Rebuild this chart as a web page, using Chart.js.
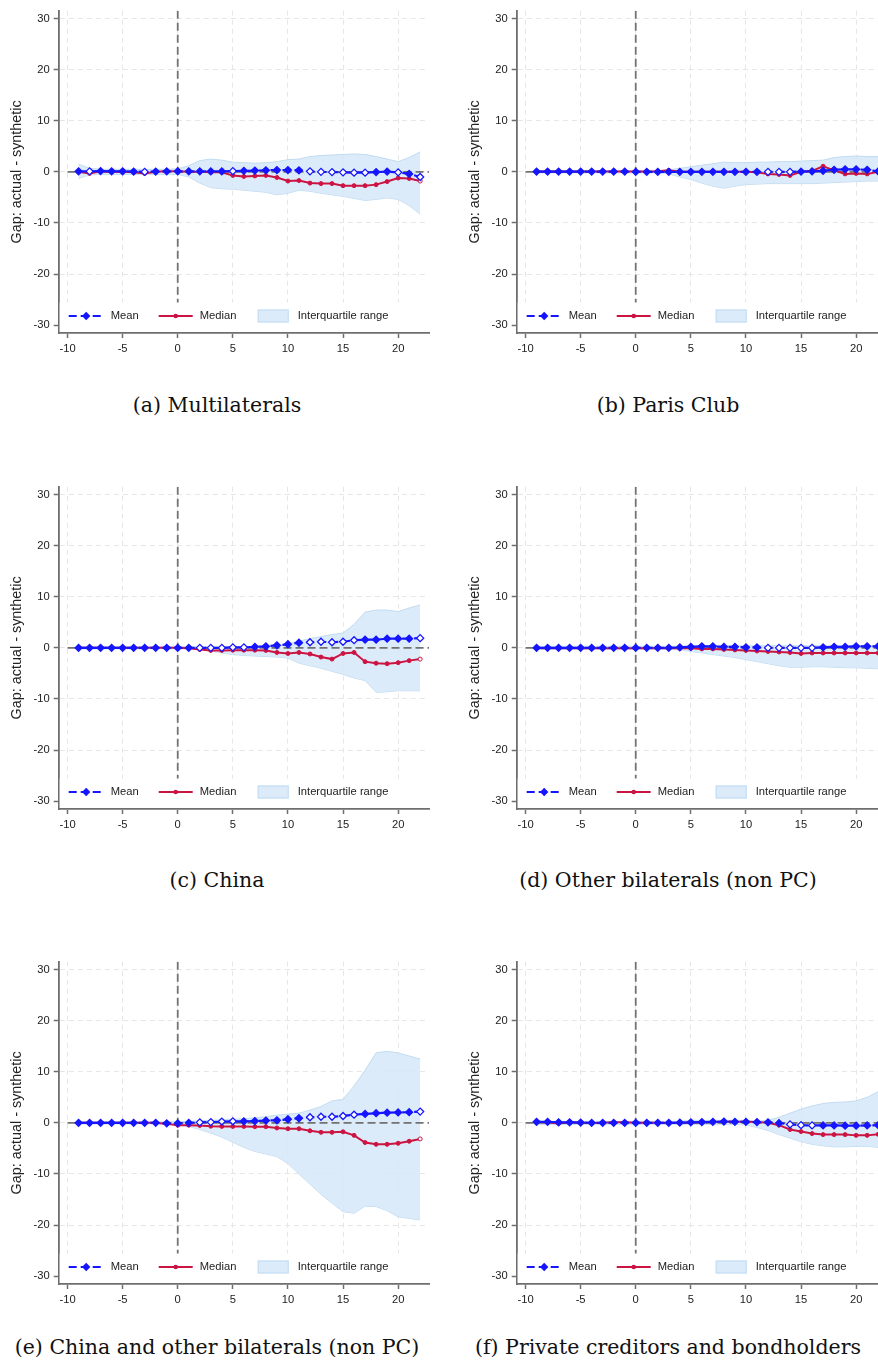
<!DOCTYPE html>
<html lang="en">
<head>
<meta charset="UTF-8">
<title>Gap: actual - synthetic</title>
<script src="https://cdn.jsdelivr.net/npm/chart.js"></script>
<style>
  html, body { margin: 0; padding: 0; background: #fff; }
  body { width: 878px; height: 1370px; overflow: hidden; position: relative; }
  canvas { position: absolute; }
  .caption {
    position: absolute;
    width: 434px;
    text-align: center;
    font-family: 'DejaVu Serif', 'Liberation Serif', serif;
    font-size: 20.5px;
    line-height: 24px;
    color: #111;
    white-space: nowrap;
  }
</style>
</head>
<body>

<canvas id="chartA" width="440" height="360" style="left:0;top:0"></canvas>
<canvas id="chartB" width="440" height="360" style="left:458px;top:0"></canvas>
<canvas id="chartC" width="440" height="360" style="left:0;top:476px"></canvas>
<canvas id="chartD" width="440" height="360" style="left:458px;top:476px"></canvas>
<canvas id="chartE" width="440" height="360" style="left:0;top:951px"></canvas>
<canvas id="chartF" width="440" height="360" style="left:458px;top:951px"></canvas>

<div class="caption" style="left:0;top:393px">(a) Multilaterals</div>
<div class="caption" style="left:451px;top:393px">(b) Paris Club</div>
<div class="caption" style="left:0;top:868px">(c) China</div>
<div class="caption" style="left:451px;top:868px">(d) Other bilaterals (non PC)</div>
<div class="caption" style="left:0;top:1335px">(e) China and other bilaterals (non PC)</div>
<div class="caption" style="left:451px;top:1335px">(f) Private creditors and bondholders</div>

<script>
// periods relative to the event
const periods = [-9, -8, -7, -6, -5, -4, -3, -2, -1, 0, 1, 2, 3, 4, 5, 6, 7, 8, 9, 10, 11, 12, 13, 14, 15, 16, 17, 18, 19, 20, 21, 22];
const xTicks = [-10, -5, 0, 5, 10, 15, 20];
const yTicks = [-30, -20, -10, 0, 10, 20, 30];

// (a) Multilaterals
const meanA   = [0.1, 0.1, 0.15, 0.1, 0.1, 0.05, 0.0, 0.05, 0.1, 0.1, 0.1, 0.1, 0.1, 0.1, 0.15, 0.2, 0.25, 0.3, 0.35, 0.35, 0.3, 0.1, 0.0, -0.05, -0.1, -0.15, -0.15, -0.05, 0.05, -0.1, -0.4, -1.0];
const medianA = [0.0, -0.3, 0.1, 0.0, 0.0, -0.1, -0.3, 0.0, 0.1, 0.1, 0.0, 0.0, -0.1, -0.1, -0.7, -0.9, -0.8, -0.7, -1.1, -1.8, -1.7, -2.2, -2.3, -2.3, -2.7, -2.7, -2.7, -2.5, -1.9, -1.2, -1.3, -1.8];
const q75A    = [1.5, 0.7, 0.5, 0.5, 0.5, 0.5, 0.5, 0.5, 0.5, 0.6, 1.2, 2.2, 2.5, 2.3, 1.9, 1.8, 1.7, 1.8, 2.0, 2.4, 2.5, 3.0, 3.2, 3.3, 3.4, 3.5, 3.4, 3.0, 2.5, 2.0, 2.8, 3.9];
const q25A    = [-1.3, -0.6, -0.5, -0.5, -0.5, -0.5, -0.5, -0.5, -0.5, -0.5, -1.0, -2.2, -3.1, -3.3, -3.4, -3.6, -3.8, -4.0, -4.5, -4.2, -3.6, -3.8, -4.2, -4.5, -4.8, -5.2, -5.6, -5.4, -5.1, -5.4, -6.6, -8.3];
const hollowMeanA = [-8, -3, 5, 12, 13, 14, 15, 16, 17, 20, 22];
const hollowMedianA = [-8, 22];

// (b) Paris Club
const meanB   = [0.05, 0.05, 0.05, 0.05, 0.05, 0.05, 0.05, 0.05, 0.05, 0.0, 0.0, 0.0, 0.0, 0.0, 0.0, 0.0, 0.0, 0.0, 0.0, 0.0, 0.0, 0.0, 0.0, 0.0, 0.05, 0.1, 0.2, 0.4, 0.5, 0.5, 0.4, 0.1];
const medianB = [0.05, 0.05, 0.05, 0.05, 0.05, 0.05, 0.05, 0.05, 0.05, 0.05, 0.05, 0.1, 0.3, 0.0, 0.0, 0.0, 0.0, 0.0, 0.0, 0.0, -0.1, -0.4, -0.5, -0.7, 0.0, 0.2, 1.1, 0.3, -0.4, -0.3, -0.4, 0.0];
const q75B    = [0.2, 0.2, 0.2, 0.2, 0.2, 0.2, 0.2, 0.2, 0.2, 0.2, 0.2, 0.2, 0.4, 0.7, 1.0, 1.3, 1.6, 1.9, 1.8, 1.8, 1.9, 1.9, 2.0, 2.0, 2.1, 2.2, 2.3, 2.8, 3.0, 3.1, 3.0, 3.0];
const q25B    = [-0.2, -0.2, -0.2, -0.2, -0.2, -0.2, -0.2, -0.2, -0.2, -0.2, -0.2, -0.2, -0.4, -1.0, -1.5, -2.2, -2.8, -3.2, -2.8, -2.5, -2.4, -2.3, -2.3, -2.3, -2.3, -2.3, -2.2, -2.1, -2.0, -1.9, -1.8, -1.8];
const hollowMeanB = [12, 13, 14];
const hollowMedianB = [];

// (c) China
const meanC   = [0.0, 0.0, 0.0, 0.0, 0.0, 0.0, 0.0, 0.0, 0.0, 0.0, 0.0, 0.0, 0.0, 0.0, 0.1, 0.1, 0.2, 0.3, 0.5, 0.7, 1.0, 1.1, 1.2, 1.1, 1.2, 1.5, 1.6, 1.6, 1.8, 1.8, 1.8, 1.9];
const medianC = [0.0, 0.0, 0.0, 0.0, 0.0, 0.0, 0.0, 0.0, 0.0, 0.0, -0.1, -0.3, -0.5, -0.5, -0.45, -0.45, -0.45, -0.5, -0.9, -1.1, -0.9, -1.2, -1.8, -2.2, -1.1, -0.9, -2.7, -3.0, -3.1, -2.9, -2.5, -2.2];
const q75C    = [0.2, 0.2, 0.2, 0.2, 0.2, 0.2, 0.2, 0.2, 0.2, 0.2, 0.2, 0.2, 0.2, 0.2, 0.2, 0.2, 0.2, 0.2, 0.4, 0.8, 1.3, 1.8, 2.2, 2.6, 2.9, 4.6, 7.0, 7.4, 7.4, 7.1, 7.8, 8.4];
const q25C    = [-0.2, -0.2, -0.2, -0.2, -0.2, -0.2, -0.2, -0.2, -0.2, -0.2, -0.2, -0.2, -0.6, -1.0, -1.3, -1.5, -1.6, -1.7, -1.8, -2.0, -3.0, -3.5, -4.0, -4.6, -5.2, -5.9, -6.4, -8.7, -8.6, -8.4, -8.4, -8.4];
const hollowMeanC = [2, 3, 4, 5, 6, 12, 13, 14, 15, 16, 22];
const hollowMedianC = [22];

// (d) Other bilaterals (non PC)
const meanD   = [0.0, 0.0, 0.0, 0.0, 0.0, 0.0, 0.0, 0.0, 0.0, 0.0, 0.0, 0.0, 0.0, 0.1, 0.2, 0.3, 0.3, 0.2, 0.2, 0.1, 0.1, 0.0, 0.0, 0.0, 0.0, 0.0, 0.1, 0.2, 0.2, 0.3, 0.3, 0.3];
const medianD = [-0.1, -0.1, -0.1, -0.1, -0.1, -0.1, -0.1, -0.1, -0.1, -0.1, -0.1, -0.1, -0.1, -0.1, -0.1, -0.2, -0.2, -0.3, -0.4, -0.5, -0.6, -0.7, -0.8, -0.9, -1.1, -1.0, -1.0, -1.0, -1.0, -1.0, -1.0, -1.0];
const q75D    = [0.3, 0.3, 0.3, 0.3, 0.3, 0.3, 0.3, 0.3, 0.3, 0.3, 0.3, 0.3, 0.3, 0.3, 0.4, 0.4, 0.4, 0.4, 0.4, 0.4, 0.4, 0.4, 0.4, 0.4, 0.4, 0.4, 0.4, 0.4, 0.4, 0.4, 0.4, 0.4];
const q25D    = [-0.3, -0.3, -0.3, -0.3, -0.3, -0.3, -0.3, -0.3, -0.3, -0.3, -0.3, -0.3, -0.3, -0.4, -0.7, -1.0, -1.3, -1.6, -1.9, -2.3, -2.7, -3.1, -3.5, -3.8, -3.8, -3.7, -3.7, -3.8, -3.9, -3.9, -4.0, -4.1];
const hollowMeanD = [12, 13, 14, 15, 16];
const hollowMedianD = [];

// (e) China and other bilaterals (non PC)
const meanE   = [0.0, 0.0, 0.0, 0.0, 0.0, 0.0, 0.0, 0.0, -0.1, -0.1, 0.0, 0.1, 0.15, 0.25, 0.3, 0.3, 0.35, 0.45, 0.5, 0.7, 0.9, 1.1, 1.2, 1.2, 1.35, 1.6, 1.75, 1.9, 2.0, 2.05, 2.1, 2.2];
const medianE = [0.0, 0.0, 0.0, 0.0, 0.0, 0.0, 0.0, 0.0, -0.2, -0.45, -0.45, -0.5, -0.65, -0.7, -0.7, -0.7, -0.75, -0.75, -1.0, -1.15, -1.15, -1.55, -1.85, -1.85, -1.75, -2.45, -3.85, -4.2, -4.2, -4.0, -3.6, -3.15];
const q75E    = [0.2, 0.2, 0.2, 0.2, 0.2, 0.2, 0.2, 0.2, 0.2, 0.2, 0.3, 0.4, 0.5, 0.6, 0.7, 0.8, 1.0, 1.2, 1.5, 1.7, 1.9, 2.5, 3.2, 4.3, 4.6, 7.2, 10.3, 13.7, 14.0, 13.7, 13.1, 12.5];
const q25E    = [-0.2, -0.2, -0.2, -0.2, -0.2, -0.2, -0.2, -0.2, -0.2, -0.4, -0.7, -1.3, -2.0, -2.8, -3.8, -4.8, -5.6, -6.1, -6.6, -8.0, -10.0, -12.0, -14.0, -15.7, -17.4, -17.7, -16.3, -16.4, -17.2, -18.4, -18.7, -19.0];
const hollowMeanE = [2, 3, 4, 5, 12, 13, 14, 15, 16, 22];
const hollowMedianE = [22];

// (f) Private creditors and bondholders
const meanF   = [0.2, 0.2, 0.1, 0.1, 0.05, 0.0, 0.0, 0.0, 0.0, 0.0, 0.0, 0.0, 0.0, 0.05, 0.1, 0.15, 0.2, 0.25, 0.2, 0.2, 0.15, 0.1, -0.05, -0.3, -0.45, -0.5, -0.5, -0.5, -0.55, -0.55, -0.5, -0.45];
const medianF = [0.1, 0.1, -0.1, 0.1, 0.0, -0.05, 0.0, 0.1, 0.1, 0.0, 0.0, 0.0, -0.05, -0.05, 0.05, 0.1, 0.15, 0.2, 0.2, 0.2, 0.15, 0.0, -0.45, -1.3, -1.7, -2.1, -2.3, -2.3, -2.3, -2.45, -2.45, -2.25];
const q75F    = [0.3, 0.3, 0.3, 0.3, 0.3, 0.3, 0.3, 0.3, 0.3, 0.3, 0.3, 0.3, 0.3, 0.3, 0.5, 0.5, 0.5, 0.5, 0.5, 0.5, 0.3, 0.5, 1.1, 1.9, 2.7, 3.3, 3.8, 4.0, 4.1, 4.3, 5.0, 6.1];
const q25F    = [-0.3, -0.3, -0.3, -0.3, -0.3, -0.3, -0.3, -0.3, -0.3, -0.3, -0.3, -0.3, -0.3, -0.3, -0.3, -0.3, -0.3, -0.3, -0.3, -0.4, -0.9, -1.5, -2.3, -3.0, -3.7, -4.2, -4.5, -4.7, -4.7, -4.6, -4.6, -4.8];
const hollowMeanF = [14, 15, 16];
const hollowMedianF = [];

const xMin = -10.8, xMax = 22.8, yMin = -31.55, yMax = 31.55;
const refX = 0, refY = 0, refYStart = -10;

const BLUE = '#1515ff';
const RED = '#cc1443';
const IQR_FILL = 'rgba(214, 232, 248, 0.85)';
const IQR_EDGE = '#c0dbf1';
const REF = '#727272';
const AXIS = '#6e6e6e';
const GRID = '#e6e6e6';
const TEXT = '#222222';

Chart.defaults.font.family = '"Liberation Sans", Arial, sans-serif';
Chart.defaults.color = TEXT;

function toPoints(vals) {
  return vals.map((v, i) => ({ x: periods[i], y: v }));
}

function markerFill(hollow, color) {
  return periods.map(p => hollow.includes(p) ? '#ffffff' : color);
}

// legend drawn inside the plot region, at the bottom
const insideLegend = {
  id: 'insideLegend',
  afterDatasetsDraw(chart) {
    const ctx = chart.ctx;
    const a = chart.chartArea;
    const x0 = a.left;
    const rowY = a.bottom - 17;
    ctx.save();
    ctx.fillStyle = '#ffffff';
    ctx.fillRect(a.left + 1, a.bottom - 30.5, a.right - a.left - 1, 29.5);

    // Mean
    ctx.strokeStyle = BLUE;
    ctx.lineWidth = 2.2;
    ctx.setLineDash([8, 4]);
    ctx.beginPath();
    ctx.moveTo(x0 + 10, rowY);
    ctx.lineTo(x0 + 44, rowY);
    ctx.stroke();
    ctx.setLineDash([]);
    ctx.fillStyle = BLUE;
    ctx.beginPath();
    ctx.moveTo(x0 + 27.5, rowY - 4.2);
    ctx.lineTo(x0 + 31.7, rowY);
    ctx.lineTo(x0 + 27.5, rowY + 4.2);
    ctx.lineTo(x0 + 23.3, rowY);
    ctx.closePath();
    ctx.fill();

    // Median
    ctx.strokeStyle = RED;
    ctx.lineWidth = 2;
    ctx.beginPath();
    ctx.moveTo(x0 + 100, rowY);
    ctx.lineTo(x0 + 134, rowY);
    ctx.stroke();
    ctx.fillStyle = RED;
    ctx.beginPath();
    ctx.arc(x0 + 117, rowY, 2.3, 0, Math.PI * 2);
    ctx.fill();

    // Interquartile range
    ctx.fillStyle = IQR_FILL;
    ctx.fillRect(x0 + 199, rowY - 6.5, 31, 13);
    ctx.strokeStyle = IQR_EDGE;
    ctx.lineWidth = 1;
    ctx.strokeRect(x0 + 199.5, rowY - 6, 30, 12);

    ctx.fillStyle = TEXT;
    ctx.font = '11.2px "Liberation Sans", Arial, sans-serif';
    ctx.textBaseline = 'middle';
    ctx.textAlign = 'left';
    ctx.fillText('Mean', x0 + 52, rowY);
    ctx.fillText('Median', x0 + 141, rowY);
    ctx.fillText('Interquartile range', x0 + 239, rowY);
    ctx.restore();
  }
};

function makeChart(id, mean, median, q75, q25, hollowMean, hollowMedian) {
  const ctx = document.getElementById(id).getContext('2d');
  return new Chart(ctx, {
    type: 'line',
    data: {
      datasets: [
        {
          data: toPoints(q25),
          borderColor: IQR_EDGE, borderWidth: 1,
          pointRadius: 0, fill: false, order: 6
        },
        {
          data: toPoints(q75),
          borderColor: IQR_EDGE, borderWidth: 1,
          backgroundColor: IQR_FILL,
          pointRadius: 0, fill: '-1', order: 5
        },
        {
          data: [{ x: refYStart, y: refY }, { x: xMax, y: refY }],
          borderColor: REF, borderWidth: 1.8, borderDash: [8, 4],
          pointRadius: 0, fill: false, order: 4
        },
        {
          data: [{ x: refX, y: yMax }, { x: refX, y: yMin }],
          borderColor: REF, borderWidth: 1.8, borderDash: [8, 4],
          pointRadius: 0, fill: false, order: 3
        },
        {
          data: toPoints(median),
          borderColor: RED, borderWidth: 2,
          pointStyle: 'circle', pointRadius: 2,
          pointBackgroundColor: markerFill(hollowMedian, RED),
          pointBorderColor: RED, pointBorderWidth: 1,
          fill: false, order: 2
        },
        {
          data: toPoints(mean),
          borderColor: BLUE, borderWidth: 2.2, borderDash: [8, 4],
          pointStyle: 'rectRot', pointRadius: 3.5,
          pointBackgroundColor: markerFill(hollowMean, BLUE),
          pointBorderColor: BLUE, pointBorderWidth: 1.3,
          fill: false, order: 1
        }
      ]
    },
    options: {
      responsive: false,
      animation: false,
      devicePixelRatio: 1,
      layout: { padding: { top: 6, right: 11, bottom: 0, left: 0 } },
      elements: { line: { tension: 0 } },
      plugins: {
        legend: { display: false },
        tooltip: { enabled: false }
      },
      scales: {
        x: {
          type: 'linear',
          min: xMin,
          max: xMax,
          afterBuildTicks: s => { s.ticks = xTicks.map(v => ({ value: v })); },
          afterFit: s => { s.height = 27; },
          grid: { color: GRID, lineWidth: 1, tickLength: 5, tickColor: AXIS, tickWidth: 1.5 },
          border: { display: true, color: AXIS, width: 1.8, dash: [5, 4] },
          ticks: { color: TEXT, font: { size: 11.2 }, padding: 4, maxRotation: 0, autoSkip: false }
        },
        y: {
          type: 'linear',
          min: yMin,
          max: yMax,
          afterBuildTicks: s => { s.ticks = yTicks.map(v => ({ value: v })); },
          afterFit: s => { s.width = 58.7; },
          grid: { color: GRID, lineWidth: 1, tickLength: 5, tickColor: AXIS, tickWidth: 1.5 },
          border: { display: true, color: AXIS, width: 1.8, dash: [5, 4] },
          ticks: { color: TEXT, font: { size: 11.2 }, padding: 4, autoSkip: false },
          title: {
            display: true,
            text: 'Gap: actual - synthetic',
            color: TEXT,
            font: { size: 14.4 },
            padding: { top: 8.5, bottom: 0 }
          }
        }
      }
    },
    plugins: [insideLegend]
  });
}

makeChart('chartA', meanA, medianA, q75A, q25A, hollowMeanA, hollowMedianA);
makeChart('chartB', meanB, medianB, q75B, q25B, hollowMeanB, hollowMedianB);
makeChart('chartC', meanC, medianC, q75C, q25C, hollowMeanC, hollowMedianC);
makeChart('chartD', meanD, medianD, q75D, q25D, hollowMeanD, hollowMedianD);
makeChart('chartE', meanE, medianE, q75E, q25E, hollowMeanE, hollowMedianE);
makeChart('chartF', meanF, medianF, q75F, q25F, hollowMeanF, hollowMedianF);
</script>
</body>
</html>
